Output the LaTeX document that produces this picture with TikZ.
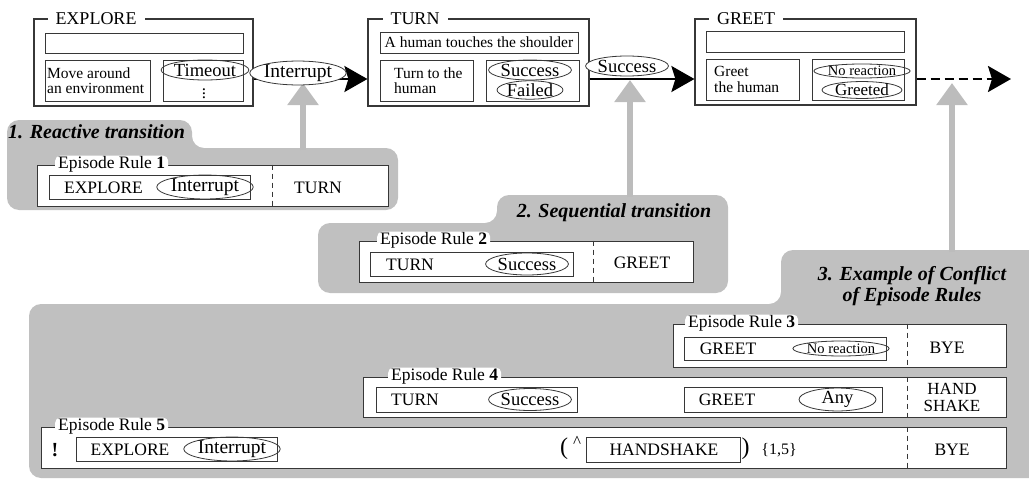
\documentclass[tikz,border=0pt]{standalone}
\usepackage{fontspec}
\setmainfont{Liberation Serif}
\usetikzlibrary{arrows.meta,shapes.geometric,calc}
\definecolor{rg}{RGB}{192,192,192}
\definecolor{ln}{RGB}{55,55,55}
\definecolor{ga}{RGB}{188,188,188}
\newcommand{\sz}[1]{\fontsize{#1pt}{#1pt}\selectfont}
\begin{document}
\begin{tikzpicture}[x=1pt,y=-1pt,
  bx/.style={draw=ln, line width=0.9pt, inner sep=0pt},
  obx/.style={draw=ln, line width=1.2pt, inner sep=0pt},
  ell/.style={draw=ln, line width=0.8pt, ellipse, inner sep=0pt, font=\sz{18.5}},
  ttl/.style={fill=white, inner xsep=8pt, inner ysep=1pt, font=\sz{18}},
  lbl/.style={fill=white, rounded corners=5pt, inner xsep=3pt, inner ysep=1pt, anchor=west, font=\sz{17.5}},
  rt/.style={inner sep=0pt, font=\sz{17.5}},
  it/.style={inner sep=0pt, font=\sz{15.5}, align=left, anchor=west},
  rgt/.style={inner sep=0pt, font=\sz{20}\bfseries\itshape},
  sep/.style={draw=ln, line width=0.7pt, dash pattern=on 5pt off 4pt},
  arr/.style={draw=black, line width=2.4pt, -{Stealth[length=23pt,width=26pt,inset=4pt]}},
  garr/.style={draw=ga, line width=6pt, -{Triangle[length=22pt,width=30pt]}}]
\useasboundingbox (0,0) rectangle (1029,479);
% grey regions
\fill[rg, rounded corners=12pt] (7,210) -- (7,120) -- (192,120) -- (192,148) -- (398,148) -- (398,210) -- cycle;
\fill[rg, rounded corners=12pt] (318,293) -- (318,223) -- (497,223) -- (497,195) -- (728,195) -- (728,293) -- cycle;
\fill[rg, rounded corners=12pt] (29,478) -- (29,304) -- (781,304) -- (781,250) -- (1045,250) -- (1045,478) -- cycle;
\node[rgt, anchor=west] (t1) at (8,132) {1. Reactive transition};
\node[rgt] (t2) at (614,213) {2. Sequential transition};
\node[rgt, align=center] (t3) at (912,286) {3. Example of Conflict\\[1pt]of Episode Rules};
% grey arrows
\coordinate (g1a) at (303,150); \coordinate (g1b) at (303,83);
\coordinate (g2a) at (630,197); \coordinate (g2b) at (630,80);
\coordinate (g3a) at (952,252); \coordinate (g3b) at (952,83);
\draw[garr] (g1a) -- (g1b);
\draw[garr] (g2a) -- (g2b);
\draw[garr] (g3a) -- (g3b);
% top states
\node[obx, minimum width=219, minimum height=87] (explore) at (143.5,62.5) {};
\node[ttl] (exploreT) at (96,19) {EXPLORE};
\node[bx, minimum width=198, minimum height=20] (exA) at (144,43) {};
\node[bx, minimum width=105, minimum height=41] (exB) at (97.5,80.5) {};
\node[bx, minimum width=80, minimum height=41] (exC) at (203,80.5) {};
\node[it] (exBt) at (47,80.5) {\baselineskip=18pt Move around\\an environment};
\node[ell, minimum width=67, minimum height=20] (exTo) at (205,70) {Timeout};
\node[inner sep=0pt, font=\sz{17}] (exDots) at (204,90.5) {$\vdots$};

\node[obx, minimum width=221, minimum height=87] (turn) at (478.5,62.5) {};
\node[ttl] (turnT) at (415,19) {TURN};
\node[bx, minimum width=198, minimum height=21, font=\sz{15.5}] (tuA) at (479,42.5) {A human touches the shoulder};
\node[bx, minimum width=93, minimum height=41] (tuB) at (426.5,80.5) {};
\node[bx, minimum width=93, minimum height=41] (tuC) at (532.5,80.5) {};
\node[it] (tuBt) at (394,80.5) {\baselineskip=18pt Turn to the\\human};
\node[ell, minimum width=66, minimum height=20] (tuS) at (530,70) {Success};
\node[ell, minimum width=66, minimum height=16] (tuF) at (530,90) {Failed};

\node[obx, minimum width=221, minimum height=86] (greet) at (805.5,62) {};
\node[ttl] (greetT) at (746,19) {GREET};
\node[bx, minimum width=198, minimum height=21] (grA) at (805,41.5) {};
\node[bx, minimum width=93, minimum height=41] (grB) at (752.5,79.5) {};
\node[bx, minimum width=92, minimum height=41] (grC) at (858,79.5) {};
\node[it] (grBt) at (714,79.5) {\baselineskip=18pt Greet\\the human};
\node[ell, minimum width=84, minimum height=14, font=\sz{14.5}] (grN) at (862,71) {No reaction};
\node[ell, minimum width=80, minimum height=15, font=\sz{17}] (grG) at (862,90) {Greeted};

% transitions
\coordinate (ly) at (0,79);
\coordinate (dend) at (1011,79);
\draw[arr] (explore.east |- ly) -- (turn.west |- ly);
\draw[arr] (turn.east |- ly) -- (greet.west |- ly);
\draw[arr, dash pattern=on 9pt off 5pt] (greet.east |- ly) -- (dend);
\node[ell, fill=white, minimum width=85, minimum height=17, font=\sz{19.5}] (eInt) at (298,73) {Interrupt};
\node[ell, fill=white, minimum width=72, minimum height=20] (eSuc) at (627,66) {Success};

% rule 1
\node[bx, fill=white, minimum width=351, minimum height=41] (r1) at (212.5,185.5) {};
\node[lbl] (r1l) at (r1.north west -| 55,0) {Episode Rule \textbf{1}};
\node[bx, minimum width=201, minimum height=24] (r1a) at (149.5,187) {};
\node[rt] (r1e) at (103.5,187.5) {EXPLORE};
\node[ell, minimum width=86, minimum height=22, font=\sz{19.5}] (r1i) at (205,187) {Interrupt};
\coordinate (s1) at (272,0);
\draw[sep] (r1.north -| s1) -- (r1.south -| s1);
\node[rt] (r1t) at (318,187.5) {TURN};

% rule 2
\node[bx, fill=white, minimum width=334, minimum height=41] (r2) at (526,261.5) {};
\node[lbl] (r2l) at (r2.north west -| 377,0) {Episode Rule \textbf{2}};
\node[bx, minimum width=203, minimum height=24] (r2a) at (471.5,264) {};
\node[rt] (r2t) at (410,264.5) {TURN};
\node[ell, minimum width=73, minimum height=22] (r2s) at (527,264) {Success};
\coordinate (s2) at (593,0);
\draw[sep] (r2.north -| s2) -- (r2.south -| s2);
\node[rt] (r2g) at (642,262.5) {GREET};

% rule 3
\node[bx, fill=white, minimum width=333, minimum height=43] (r3) at (839.5,345.5) {};
\node[lbl] (r3l) at (r3.north west -| 685,0) {Episode Rule \textbf{3}};
\node[bx, minimum width=202, minimum height=23] (r3a) at (785,348.5) {};
\node[rt] (r3g) at (728,349) {GREET};
\node[ell, minimum width=88, minimum height=15, font=\sz{14.5}] (r3n) at (841,348.5) {No reaction};
\coordinate (s3) at (907,0);
\draw[sep] (r3.north -| s3) -- (r3.south -| s3);
\node[rt] (r3b) at (947,347.5) {BYE};

% rule 4
\node[bx, fill=white, minimum width=643, minimum height=40] (r4) at (684.5,397) {};
\node[lbl] (r4l) at (r4.north west -| 388,0) {Episode Rule \textbf{4}};
\node[bx, minimum width=201, minimum height=25] (r4a) at (476.5,399.5) {};
\node[rt] (r4t) at (415,400) {TURN};
\node[ell, minimum width=72, minimum height=22] (r4s) at (530,399.5) {Success};
\node[bx, minimum width=198, minimum height=25] (r4b) at (783,399.5) {};
\node[rt] (r4g) at (727,400) {GREET};
\node[ell, minimum width=77, minimum height=19] (r4y) at (837.5,399.5) {Any};
\draw[sep] (r4.north -| s3) -- (r4.south -| s3);
\node[rt, align=center, font=\sz{17}] (r4h) at (952,397.5) {\baselineskip=18pt HAND\\SHAKE};

% rule 5
\node[bx, fill=white, minimum width=965, minimum height=41] (r5) at (523.5,447.5) {};
\node[lbl] (r5l) at (r5.north west -| 55,0) {Episode Rule \textbf{5}};
\node[rt, font=\sz{20}\bfseries] (r5x) at (55,450) {!};
\node[bx, minimum width=201, minimum height=24] (r5a) at (176.5,449) {};
\node[rt] (r5e) at (130,449.5) {EXPLORE};
\node[ell, minimum width=88, minimum height=22, font=\sz{19.5}] (r5i) at (232,449) {Interrupt};
\node[rt, font=\sz{24}] (r5p) at (564,449) {(};
\node[rt, font=\sz{17}] (r5c) at (577,442) {\textasciicircum};
\node[bx, minimum width=154, minimum height=25] (r5h) at (663,449.5) {};
\node[rt] (r5ht) at (664,450) {HANDSHAKE};
\node[rt, font=\sz{24}] (r5q) at (745.5,449) {)};
\node[rt, font=\sz{16}] (r5r) at (779,450) {\{1,5\}};
\draw[sep] (r5.north -| s3) -- (r5.south -| s3);
\node[rt] (r5b) at (952,450) {BYE};
\end{tikzpicture}
\end{document}
